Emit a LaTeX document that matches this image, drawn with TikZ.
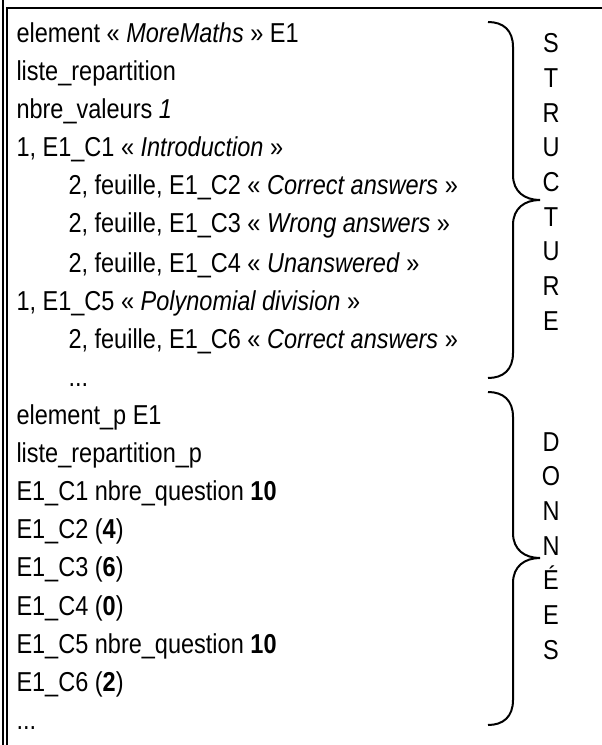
\documentclass[tikz,border=0pt]{standalone}
\usepackage{fontspec}
\setmainfont{Liberation Sans}[FakeStretch=0.86]

\tikzset{every picture/.style={line width=0.75pt}}
\tikzset{
  txtline/.style={anchor=base west, inner sep=0.75pt, font=\fontsize{20.5}{24}\selectfont},
  vletters/.style={inner sep=0pt, align=center, font=\fontsize{20.5}{26}\selectfont},
  bracepath/.style={line width=1.5pt}
}

\begin{document}
\begin{tikzpicture}[x=0.75pt,y=0.75pt,yscale=-1,xscale=1]
\path[use as bounding box] (0,0) rectangle (602,745);

%Shape: Frame lines
\draw [line width=1.5pt]  (3,0) -- (3,745) ;
\draw [line width=1pt]  (7,745) -- (7,8) -- (602,8) ;

%Shape: Brace [id:structure]
\draw [bracepath]  (488,22) .. controls (503,22) and (513,30) .. (513,47) -- (513,175) .. controls (513,192) and (525,200) .. (540,200) .. controls (525,200) and (513,208) .. (513,225) -- (513,353) .. controls (513,370) and (503,378) .. (488,378) ;
%Shape: Brace [id:donnees]
\draw [bracepath]  (488,392) .. controls (503,392) and (513,400) .. (513,417) -- (513,533) .. controls (513,550) and (525,558) .. (540,558) .. controls (525,558) and (513,566) .. (513,583) -- (513,700) .. controls (513,717) and (503,725) .. (488,725) ;

% Text Node
\draw (15,43) node (elem) [txtline] {element « \textit{MoreMaths} » E1};
% Text Node
\draw (15,81) node (liste) [txtline] {liste\_repartition};
% Text Node
\draw (15,119) node (nbreval) [txtline] {nbre\_valeurs \textit{1}};
% Text Node
\draw (15,157) node (cone) [txtline] {1, E1\_C1 « \textit{Introduction} »};
% Text Node
\draw (67,195) node (ctwo) [txtline] {2, feuille, E1\_C2 « \textit{Correct answers} »};
% Text Node
\draw (67,233) node (cthree) [txtline] {2, feuille, E1\_C3 « \textit{Wrong answers} »};
% Text Node
\draw (67,272) node (cfour) [txtline] {2, feuille, E1\_C4 « \textit{Unanswered} »};
% Text Node
\draw (15,310) node (cfive) [txtline] {1, E1\_C5 « \textit{Polynomial division} »};
% Text Node
\draw (67,348) node (csix) [txtline] {2, feuille, E1\_C6 « \textit{Correct answers} »};
% Text Node
\draw (67,386) node (dotsone) [txtline] {...};
% Text Node
\draw (15,424) node (elemp) [txtline] {element\_p E1};
% Text Node
\draw (15,462) node (listep) [txtline] {liste\_repartition\_p};
% Text Node
\draw (15,500) node (pcone) [txtline] {E1\_C1 nbre\_question \textbf{10}};
% Text Node
\draw (15,538) node (pctwo) [txtline] {E1\_C2 (\textbf{4})};
% Text Node
\draw (15,576) node (pcthree) [txtline] {E1\_C3 (\textbf{6})};
% Text Node
\draw (15,615) node (pcfour) [txtline] {E1\_C4 (\textbf{0})};
% Text Node
\draw (15,653) node (pcfive) [txtline] {E1\_C5 nbre\_question \textbf{10}};
% Text Node
\draw (15,691) node (pcsix) [txtline] {E1\_C6 (\textbf{2})};
% Text Node
\draw (15,729) node (dotstwo) [txtline] {...};

% Text Node
\draw (551,182) node (structure) [vletters] {S\\T\\R\\U\\C\\T\\U\\R\\E};
% Text Node
\draw (551,546) node (donnees) [vletters] {D\\O\\N\\N\\É\\E\\S};

\end{tikzpicture}
\end{document}
